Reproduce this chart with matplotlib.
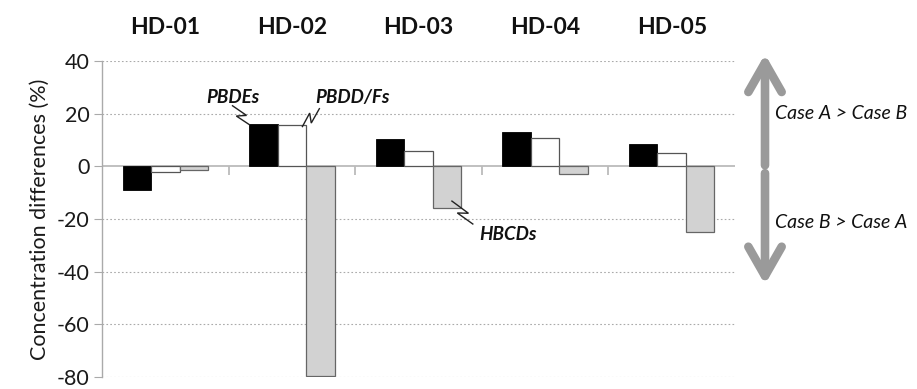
import numpy as np
import matplotlib.pyplot as plt
import matplotlib.transforms as mtransforms
from matplotlib.patches import FancyArrowPatch, ArrowStyle

plt.rcParams['font.family'] = ['Lato', 'DejaVu Sans']
plt.rcParams['axes.unicode_minus'] = False

groups = ["HD-01", "HD-02", "HD-03", "HD-04", "HD-05"]
pbdes = [-9.0, 16.2, 10.4, 13.2, 8.6]
pbddfs = [-2.3, 15.7, 6.0, 10.8, 5.0]
hbcds = [-1.5, -79.6, -15.8, -2.8, -24.9]

fig = plt.figure(figsize=(9.17, 3.89), dpi=100)
ax = fig.add_axes([102 / 917, 1 - 377 / 389, 633 / 917, 316 / 389])

x = np.arange(len(groups))
w = 0.225
ax.bar(x - w, pbdes, w, color="black", edgecolor="black", linewidth=0.6, zorder=3)
ax.bar(x, pbddfs, w, color="white", edgecolor="#555555", linewidth=0.9, zorder=3)
ax.bar(x + w, hbcds, w, color="#d2d2d2", edgecolor="#666666", linewidth=0.9, zorder=3)

ax.set_xlim(-0.5, len(groups) - 0.5)
ax.set_ylim(-80, 40)
ax.set_yticks(np.arange(-80, 41, 20))
ax.tick_params(axis="y", labelsize=15.5, length=6, color="#aaaaaa", labelcolor="#1a1a1a", pad=3)
ax.set_xticks([])
for yv in np.arange(-80, 41, 20):
    if yv != 0:
        ax.axhline(yv, color="#aaaaaa", linestyle=(0, (1.5, 2)), linewidth=0.8, zorder=1)
ax.axhline(0, color="#bbbbbb", linewidth=1.3, zorder=2)
ax.vlines(x[:-1] + 0.5, -3.2, 0, color="#bbbbbb", linewidth=1.3, zorder=2)

for s in ["top", "right", "bottom"]:
    ax.spines[s].set_visible(False)
ax.spines["left"].set_color("#aaaaaa")
ax.spines["left"].set_linewidth(1.0)

ax.set_ylabel("Concentration differences (%)", fontsize=15.5, color="#1a1a1a", labelpad=5)

# group titles above the plot
tr = mtransforms.blended_transform_factory(ax.transData, ax.transAxes)
for i, g in enumerate(groups):
    ax.text(i, 1.105, g, transform=tr, ha="center", va="center",
            fontsize=16.5, fontweight="bold", color="#111111")


def zigzag(x0, y0, x1, y1, k=4.0):
    # lightning-shaped leader line, drawn in pixel space
    p0 = ax.transData.transform((x0, y0))
    p1 = ax.transData.transform((x1, y1))
    d = p1 - p0
    n = np.array([d[1], -d[0]]) / np.hypot(*d)
    a = p0 + 0.65 * d - k * n
    b = p0 + 0.40 * d + k * n
    pts = np.array([p0, a, b, p1])
    pts = ax.transData.inverted().transform(pts)
    ax.plot(pts[:, 0], pts[:, 1], color="#222222", linewidth=1.0, zorder=4,
            solid_joinstyle="miter")


lab_kw = dict(fontsize=13.5, fontweight="bold", fontstyle="italic", color="#111111",
              ha="center", va="center", zorder=5)
ax.text(0.531, 26.3, "PBDEs", **lab_kw)
zigzag(0.531, 23.0, 0.665, 15.8)
ax.text(1.476, 26.3, "PBDD/Fs", **lab_kw)
zigzag(1.217, 21.9, 1.083, 15.1)
ax.text(2.705, -26.0, "HBCDs", **lab_kw)
zigzag(2.264, -13.2, 2.429, -21.9)

# direction arrows on the right
ta = mtransforms.blended_transform_factory(ax.transAxes, ax.transData)
ax_x = (765 - 102) / 633
style = ArrowStyle("->", head_length=21, head_width=12)
for y0, y1 in [(0.4, 42.6), (-2.6, -44.9)]:
    arr = FancyArrowPatch((ax_x, y0), (ax_x, y1), transform=ta, arrowstyle=style,
                          mutation_scale=1, color="#9a9a9a", linewidth=6.2,
                          capstyle="round", joinstyle="round", clip_on=False,
                          shrinkA=0, shrinkB=0)
    ax.add_patch(arr)

ax.text(ax_x + 0.016, 20.0, "Case A > Case B", transform=ta, fontsize=14,
        fontstyle="italic", color="#111111", ha="left", va="center")
ax.text(ax_x + 0.016, -21.5, "Case B > Case A", transform=ta, fontsize=14,
        fontstyle="italic", color="#111111", ha="left", va="center")

fig.savefig("out.png", dpi=100)
